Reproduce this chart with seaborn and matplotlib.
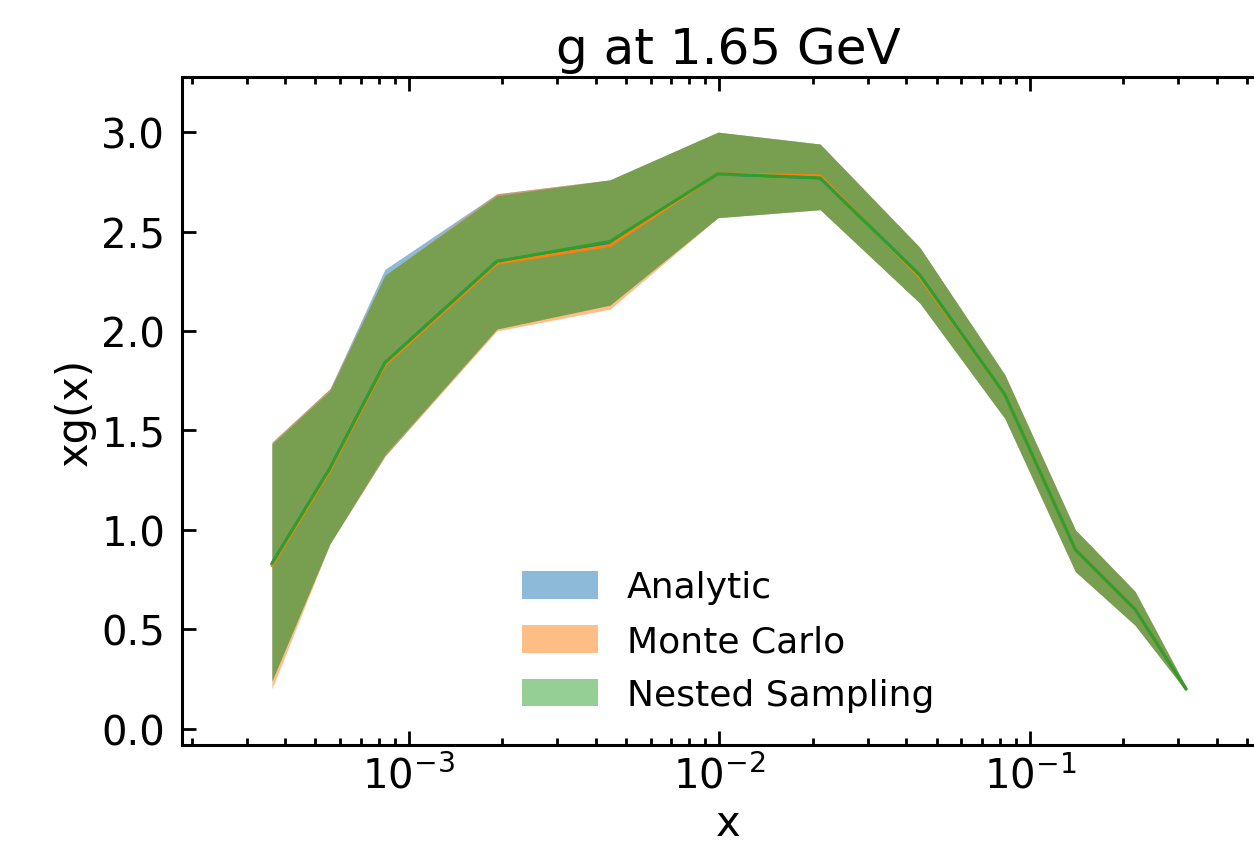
import numpy as np
import pandas as pd
import matplotlib
matplotlib.use("Agg")
import matplotlib.pyplot as plt
import seaborn as sns
from matplotlib.patches import Patch
from matplotlib.ticker import LogLocator, MultipleLocator, NullLocator

# ---- data ----
x_vals = [3.62e-4, 5.57e-4, 8.37e-4, 1.92e-3, 4.44e-3, 9.89e-3,
          0.0211, 0.0442, 0.083, 0.14, 0.218, 0.318]

analytic_mid = [0.83, 1.31, 1.84, 2.35, 2.44, 2.79, 2.77, 2.28, 1.68, 0.90, 0.60, 0.20]
analytic_up  = [1.44, 1.71, 2.31, 2.69, 2.76, 3.00, 2.94, 2.42, 1.78, 1.00, 0.69, 0.21]
analytic_lo  = [0.24, 0.93, 1.37, 2.01, 2.13, 2.57, 2.61, 2.14, 1.56, 0.79, 0.52, 0.19]

mc_mid = [0.82, 1.30, 1.83, 2.34, 2.43, 2.79, 2.78, 2.27, 1.68, 0.90, 0.60, 0.20]
mc_up  = [1.44, 1.71, 2.28, 2.69, 2.76, 3.00, 2.94, 2.42, 1.78, 1.00, 0.69, 0.21]
mc_lo  = [0.20, 0.93, 1.37, 2.00, 2.11, 2.57, 2.61, 2.14, 1.56, 0.79, 0.52, 0.19]

ns_mid = [0.83, 1.31, 1.84, 2.35, 2.45, 2.79, 2.77, 2.28, 1.68, 0.90, 0.60, 0.20]
ns_up  = [1.43, 1.70, 2.28, 2.68, 2.76, 3.00, 2.94, 2.42, 1.78, 1.00, 0.69, 0.21]
ns_lo  = [0.24, 0.93, 1.38, 2.01, 2.13, 2.57, 2.61, 2.14, 1.56, 0.79, 0.52, 0.19]

labels = ["Analytic", "Monte Carlo", "Nested Sampling"]
title = "g at 1.65 GeV"

series = {
    "Analytic": (analytic_mid, analytic_up, analytic_lo),
    "Monte Carlo": (mc_mid, mc_up, mc_lo),
    "Nested Sampling": (ns_mid, ns_up, ns_lo),
}

rows = []
for name, (mid, up, lo) in series.items():
    for xv, m, u, l in zip(x_vals, mid, up, lo):
        rows.append({"x": xv, "mid": m, "up": u, "lo": l, "method": name})
df = pd.DataFrame(rows)

# ---- style ----
sns.set_style("ticks")
plt.rcParams["font.family"] = ["DejaVu Sans"]
plt.rcParams["text.color"] = "black"
plt.rcParams["axes.labelcolor"] = "black"
plt.rcParams["xtick.color"] = "black"
plt.rcParams["ytick.color"] = "black"
plt.rcParams["axes.edgecolor"] = "black"

colors = sns.color_palette("tab10", 3)

fig = plt.figure(figsize=(12.54, 8.62), dpi=100)
ax = fig.add_axes([0.1451, 0.1349, 1.0167 - 0.1451, 0.9092 - 0.1349])

for name, c in zip(labels, colors):
    sub = df[df["method"] == name]
    ax.fill_between(sub["x"], sub["lo"], sub["up"], color=c, alpha=0.5, linewidth=0)

sns.lineplot(data=df, x="x", y="mid", hue="method", palette=colors,
             hue_order=labels, ax=ax, linewidth=2.2, legend=False, sort=True,
             estimator=None)

ax.set_xscale("log")
ax.set_xlim(1.858e-4, 0.615)
ax.set_ylim(-0.081, 3.276)

ax.yaxis.set_major_locator(MultipleLocator(0.5))
ax.yaxis.set_minor_locator(NullLocator())
ax.xaxis.set_major_locator(LogLocator(base=10))
ax.xaxis.set_minor_locator(LogLocator(base=10, subs=np.arange(2, 10)))

ax.tick_params(axis="both", which="both", direction="in", top=True, right=True)
ax.tick_params(axis="both", which="major", length=10, width=2, labelsize=29)
ax.tick_params(axis="both", which="minor", length=5, width=2)
ax.tick_params(axis="y", which="major", pad=12)
ax.tick_params(axis="x", which="major", pad=8)
for s in ax.spines.values():
    s.set_linewidth(2.2)

ax.set_xlabel("x", fontsize=30)
ax.set_ylabel("xg(x)", fontsize=30)
ax.set_title(title, fontsize=36, pad=10)

handles = [Patch(facecolor=c, alpha=0.5, edgecolor="none") for c in colors]
ax.legend(handles, labels, loc="lower center", bbox_to_anchor=(0.5, 0.0),
          frameon=False, fontsize=26, handlelength=2.1, handleheight=0.8,
          labelspacing=0.55, handletextpad=0.8)

fig.savefig("out.png", dpi=100)
